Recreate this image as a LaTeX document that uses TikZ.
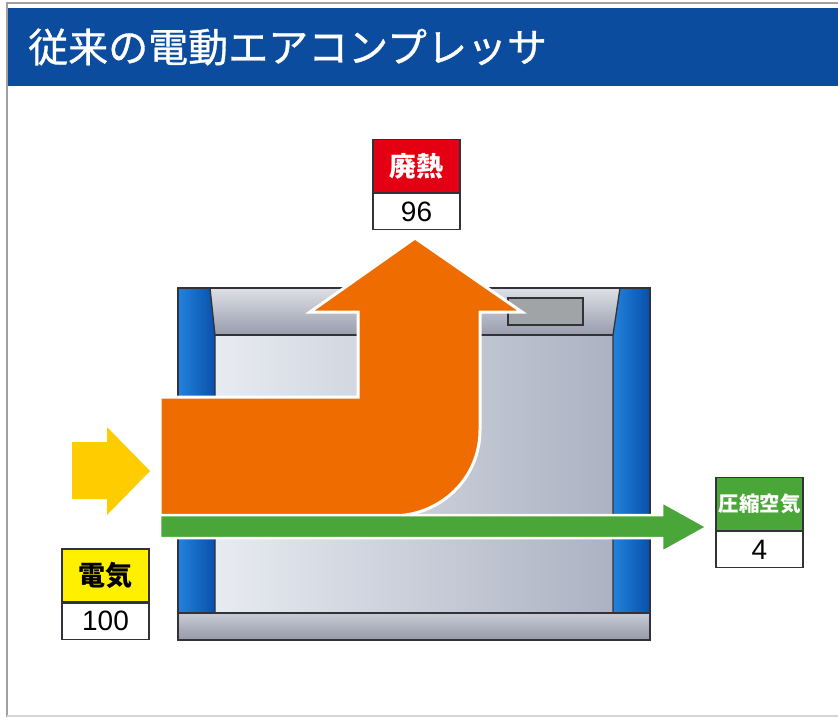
\documentclass[tikz,border=0pt]{standalone}
\usepackage{fontspec}
\setmainfont{Liberation Sans}
\newfontfamily\jpfont{Noto Sans CJK JP}
\newfontfamily\jptitle[FakeBold=0.8]{Noto Sans CJK JP}
\definecolor{titleblue}{RGB}{12,76,158}
\definecolor{framegray}{RGB}{120,120,124}
\definecolor{edgegray}{RGB}{50,50,56}
\definecolor{heatorange}{RGB}{238,108,0}
\definecolor{airgreen}{RGB}{74,166,56}
\definecolor{powyellow}{RGB}{255,204,0}
\definecolor{heatred}{RGB}{228,0,18}
\definecolor{labelyellow}{RGB}{255,240,0}
\definecolor{bluelight}{RGB}{34,130,220}
\definecolor{bluedark}{RGB}{8,80,170}
\definecolor{bodylight}{RGB}{232,235,241}
\definecolor{bodydark}{RGB}{172,178,194}
\definecolor{lidlight}{RGB}{222,224,230}
\definecolor{liddark}{RGB}{152,156,172}
\definecolor{basetop}{RGB}{200,204,214}
\definecolor{basebot}{RGB}{148,152,168}
\definecolor{wingray}{RGB}{160,164,166}
\tikzset{
  edge/.style={draw=edgegray, line width=1.3pt},
  lblhead/.style={draw=edgegray, line width=1.3pt, minimum width=87pt,
    minimum height=53pt, inner sep=0pt,
    font=\jpfont\bfseries\fontsize{27}{27}\selectfont},
  lblval/.style={draw=edgegray, line width=1.3pt, fill=white, minimum width=87pt,
    minimum height=36pt, inner sep=0pt, font=\fontsize{28}{28}\selectfont},
  flowline/.style={draw=white, line width=3pt, line join=miter}
}
\begin{document}
\begin{tikzpicture}[x=1pt,y=-1pt]
\useasboundingbox (0,0) rectangle (838,718);
\fill[white] (0,0) rectangle (838,718);

% outer frame and title bar
\draw[framegray!70, line width=1.5pt] (7,717) -- (7,3) -- (838,3);
\draw[framegray!30, line width=1.5pt] (7,716) -- (838,716);
\fill[titleblue] (8,8) rectangle (838,86);
\node[anchor=west, text=white, inner sep=0pt,
  font=\jptitle\fontsize{40}{40}\selectfont] (title) at (28,47)
  {従来の電動エアコンプレッサ};

% compressor housing
\path[top color=basetop, bottom color=basebot] (178,613) rectangle (650,640);
\path[left color=bodylight, right color=bodydark] (214,335) rectangle (613,613);
\path[top color=lidlight, bottom color=liddark]
  (210,288) -- (620,288) -- (613,335) -- (215,335) -- cycle;
\path[left color=bluelight, right color=bluedark]
  (178,288) -- (210,288) -- (215,335) -- (215,613) -- (178,613) -- cycle;
\path[left color=bluelight, right color=bluedark]
  (620,288) -- (650,288) -- (650,613) -- (613,613) -- (613,335) -- cycle;
\draw[edge] (178,288) rectangle (650,640);
\draw[edge] (178,613) -- (650,613);
\draw[edge] (210,288) -- (215,335) -- (215,613);
\draw[edge] (620,288) -- (613,335) -- (613,613);
\draw[edge] (215,335) -- (613,335);
\draw[edge, fill=wingray] (508,298) rectangle (583,325);

% electric power input
\fill[powyellow] (72,442) -- (107,442) -- (107,427) -- (150,471)
  -- (107,515) -- (107,499) -- (72,499) -- cycle;

% waste heat flow
\path[flowline, fill=heatorange]
  (160,397) -- (358,397) -- (358,312) -- (310,312) -- (415,238)
  -- (522,312) -- (480,312) -- (480,430)
  .. controls (480,478) and (441,516) .. (392,516) -- (160,516) -- cycle;

% compressed air flow
\path[flowline, line width=2.5pt, fill=airgreen]
  (160,515) -- (662,515) -- (662,502) -- (707,527) -- (662,552)
  -- (662,538) -- (160,538) -- cycle;

% value labels
\node[lblhead, fill=heatred, text=white] (heathead) at (416.5,166) {廃熱};
\node[lblval, anchor=north] (heatval) at (heathead.south) {96};

\node[lblhead, fill=labelyellow, text=black] (powhead) at (105.5,575.5) {電気};
\node[lblval, anchor=north] (powval) at (powhead.south) {100};

\node[lblhead, fill=airgreen, text=white,
  font=\jpfont\bfseries\fontsize{20.5}{20.5}\selectfont] (airhead) at (759.5,504) {圧縮空気};
\node[lblval, anchor=north] (airval) at (airhead.south) {4};
\end{tikzpicture}
\end{document}
